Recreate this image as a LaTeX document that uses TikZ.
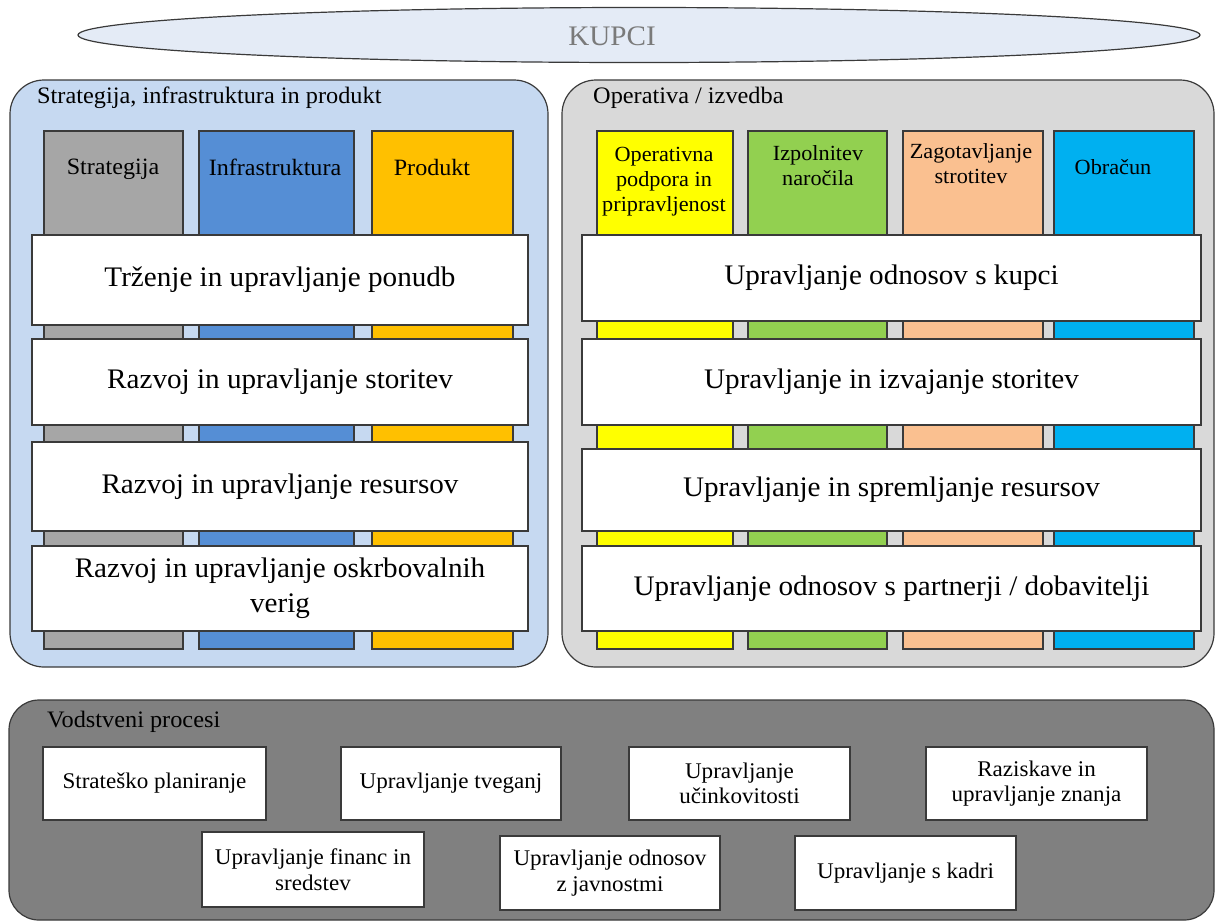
\documentclass[tikz,border=0pt]{standalone}
\usepackage{fontspec}
\setmainfont{Liberation Serif}[FakeStretch=1.03]
\usetikzlibrary{shapes.geometric}

\definecolor{linec}{HTML}{3A3A3A}
\definecolor{custfill}{HTML}{E4EBF6}
\definecolor{custtext}{HTML}{7A7A7A}
\definecolor{stratpanel}{HTML}{C6D9F1}
\definecolor{operpanel}{HTML}{D9D9D9}
\definecolor{mgmtpanel}{HTML}{808080}
\definecolor{cstrat}{HTML}{A6A6A6}
\definecolor{cinfra}{HTML}{558ED5}
\definecolor{cprod}{HTML}{FFC000}
\definecolor{cyel}{HTML}{FFFF00}
\definecolor{cgreen}{HTML}{92D050}
\definecolor{cpeach}{HTML}{FAC090}
\definecolor{cblue}{HTML}{00B0F0}

\tikzset{
  panel/.style={draw=linec, line width=1.2pt, rounded corners=34pt, inner sep=0pt},
  colbar/.style={draw=linec, line width=1.2pt, inner sep=0pt, minimum height=518pt},
  collabel/.style={align=center, font=\fontsize{21.6}{25}\selectfont, inner sep=0pt},
  bigcollabel/.style={align=center, font=\fontsize{23.4}{27}\selectfont, inner sep=0pt},
  rowbox/.style={draw=linec, fill=white, line width=1.2pt, align=center, inner sep=0pt,
    font=\fontsize{28.3}{35}\selectfont},
  mgmtbox/.style={draw=linec, fill=white, line width=1.2pt, align=center, inner sep=0pt,
    font=\fontsize{22.4}{25.5}\selectfont},
  paneltitle/.style={anchor=west, inner sep=0pt, font=\fontsize{23.6}{27}\selectfont},
}

\begin{document}
\begin{tikzpicture}[x=1pt, y=-1pt]
\useasboundingbox (0,0) rectangle (1215,922);

% customers
\node[ellipse, draw=linec, fill=custfill, line width=1.2pt, inner sep=0pt,
      minimum width=1122pt, minimum height=55pt] (kupci) at (639,35) {};
\node[text=custtext, font=\fontsize{28.3}{32}\selectfont, inner sep=0pt] (kupcilbl) at (612,36) {KUPCI};

% strategy, infrastructure and product
\node[panel, fill=stratpanel, minimum width=538pt, minimum height=587pt] (leftpanel) at (279,373.5) {};
\node[paneltitle] (lefttitle) at (37,98) {Strategija, infrastruktura in produkt};

\node[colbar, fill=cstrat, minimum width=139pt] (cstratbar) at (113.5,390) {};
\node[colbar, fill=cinfra, minimum width=155pt] (cinfrabar) at (276.5,390) {};
\node[colbar, fill=cprod,  minimum width=141pt] (cprodbar)  at (442.5,390) {};
\node[bigcollabel] (lstrat) at (113,169) {Strategija};
\node[bigcollabel] (linfra) at (275,167) {Infrastruktura};
\node[bigcollabel] (lprod)  at (432,167) {Produkt};

\node[rowbox, minimum width=496pt, minimum height=90pt] (lrow1) at (280,280) {Trženje in upravljanje ponudb};
\node[rowbox, minimum width=496pt, minimum height=86pt] (lrow2) at (280,382) {Razvoj in upravljanje storitev};
\node[rowbox, minimum width=496pt, minimum height=89pt] (lrow3) at (280,486.5) {Razvoj in upravljanje resursov};
\node[rowbox, minimum width=496pt, minimum height=85pt] (lrow4) at (280,588.5) {Razvoj in upravljanje oskrbovalnih\\verig};

% operations / execution
\node[panel, fill=operpanel, minimum width=652pt, minimum height=587pt] (rightpanel) at (888,373.5) {};
\node[paneltitle] (righttitle) at (593,98) {Operativa / izvedba};

\node[colbar, fill=cyel,   minimum width=136pt] (cyelbar)   at (665,390) {};
\node[colbar, fill=cgreen, minimum width=139pt] (cgreenbar) at (817.5,390) {};
\node[colbar, fill=cpeach, minimum width=140pt] (cpeachbar) at (973,390) {};
\node[colbar, fill=cblue,  minimum width=140pt] (cbluebar)  at (1124,390) {};
\node[collabel] (lyel)   at (664,182) {Operativna\\podpora in\\pripravljenost};
\node[collabel] (lgreen) at (818,166) {Izpolnitev\\naročila};
\node[collabel] (lpeach) at (971,164) {Zagotavljanje\\strotitev};
\node[collabel] (lblue)  at (1113,167) {Obračun};

\node[rowbox, minimum width=619pt, minimum height=86pt] (rrow1) at (891.5,278) {Upravljanje odnosov s kupci};
\node[rowbox, minimum width=619pt, minimum height=86pt] (rrow2) at (891.5,382) {Upravljanje in izvajanje storitev};
\node[rowbox, minimum width=619pt, minimum height=82pt] (rrow3) at (891.5,490) {Upravljanje in spremljanje resursov};
\node[rowbox, minimum width=619pt, minimum height=85pt] (rrow4) at (891.5,588.5) {Upravljanje odnosov s partnerji / dobavitelji};

% management processes
\node[panel, fill=mgmtpanel, rounded corners=30pt, minimum width=1205pt, minimum height=220pt] (botpanel) at (611.5,810) {};
\node[paneltitle] (bottitle) at (47,722) {Vodstveni procesi};

\node[mgmtbox, minimum width=223pt, minimum height=73pt] (mplan) at (154.5,783.5) {Strateško planiranje};
\node[mgmtbox, minimum width=220pt, minimum height=73pt] (mrisk) at (451,783.5) {Upravljanje tveganj};
\node[mgmtbox, minimum width=221pt, minimum height=73pt] (meff)  at (739.5,783.5) {Upravljanje\\učinkovitosti};
\node[mgmtbox, minimum width=221pt, minimum height=73pt] (mres)  at (1036.5,783.5) {Raziskave in\\upravljanje znanja};
\node[mgmtbox, minimum width=222pt, minimum height=75pt] (mfin)  at (313,869.5) {Upravljanje financ in\\sredstev};
\node[mgmtbox, minimum width=220pt, minimum height=74pt] (mpub)  at (610,873) {Upravljanje odnosov\\z javnostmi};
\node[mgmtbox, minimum width=221pt, minimum height=74pt] (mhr)   at (905.5,873) {Upravljanje s kadri};
\end{tikzpicture}
\end{document}
